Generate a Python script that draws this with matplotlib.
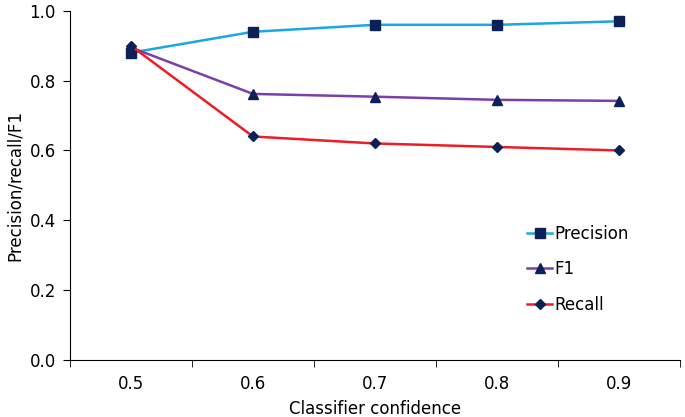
import numpy as np
import matplotlib.pyplot as plt

# data
confidence = ['0.5', '0.6', '0.7', '0.8', '0.9']
precision = [0.88, 0.94, 0.96, 0.96, 0.97]
f1 = [0.895, 0.762, 0.754, 0.745, 0.742]
recall = [0.90, 0.64, 0.62, 0.61, 0.60]

plt.rcParams['font.family'] = ['DejaVu Sans']
plt.rcParams['font.size'] = 12

fig = plt.figure(figsize=(6.85, 4.17), dpi=100)
ax = fig.add_axes([0.102, 0.137, 0.891, 0.837])

x = np.arange(len(confidence))
navy = '#0B2157'
ax.plot(x, precision, color='#1CA7E0', lw=1.8, marker='s', ms=6.5,
        mfc=navy, mec=navy, label='Precision')
ax.plot(x, f1, color='#7A3FA8', lw=1.8, marker='^', ms=6.5,
        mfc=navy, mec=navy, label='F1')
ax.plot(x, recall, color='#EE1C24', lw=1.8, marker='D', ms=5,
        mfc=navy, mec=navy, label='Recall')

ax.set_xlim(-0.5, len(confidence) - 0.5)
ax.set_ylim(0, 1.0)
ax.set_yticks(np.arange(0, 1.01, 0.2))
ax.set_yticklabels([f'{v:.1f}' for v in np.arange(0, 1.01, 0.2)])

ax.set_xticks(x)
ax.set_xticklabels(confidence)
ax.set_xticks(np.arange(-0.5, len(confidence), 1), minor=True)
ax.tick_params(axis='x', which='major', length=0, pad=11)
ax.tick_params(axis='x', which='minor', length=5, direction='out')
ax.tick_params(axis='y', length=5, direction='out', pad=5)

for s in ['top', 'right']:
    ax.spines[s].set_visible(False)

ax.set_xlabel('Classifier confidence', labelpad=5)
ax.set_ylabel('Precision/recall/F1', labelpad=4)

ax.legend(loc='upper left', bbox_to_anchor=(0.725, 0.43), frameon=False,
          handlelength=1.5, handletextpad=0.1, labelspacing=1.05, fontsize=12)

fig.savefig('out.png', dpi=100)
